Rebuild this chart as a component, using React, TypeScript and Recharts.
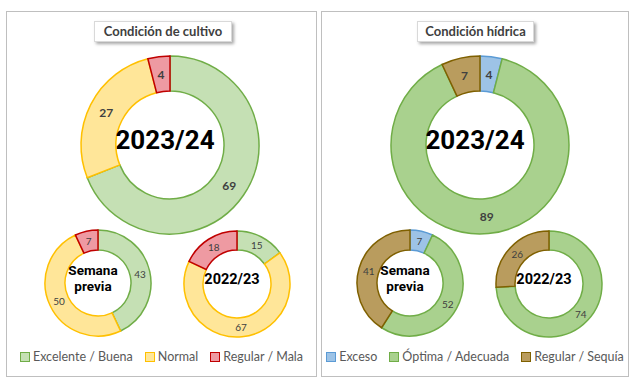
import { Cell, Label, Pie, PieChart } from "recharts";

const cultivoNames = ["Excelente / Buena", "Normal", "Regular / Mala"];
const cultivoActual = [69, 27, 4];
const cultivoPrevia = [43, 50, 7];
const cultivoAnterior = [15, 67, 18];

const hidricaNames = ["Exceso", "Óptima / Adecuada", "Regular / Sequía"];
const hidricaActual = [4, 89, 7];
const hidricaPrevia = [7, 52, 41];
const hidricaAnterior = [0, 74, 26];

const centerActual = ["2023/24"];
const centerPrevia = ["Semana", "previa"];
const centerAnterior = ["2022/23"];

const cultivoFill = ["#c5e0b4", "#ffe699", "#ee9aa2"];
const cultivoStroke = ["#70ad47", "#ffc000", "#c00000"];
const hidricaFill = ["#9dc3e6", "#a9d18e", "#b99c5e"];
const hidricaStroke = ["#5b9bd5", "#70ad47", "#7f6000"];

const FONT = "Lato, 'Open Sans', sans-serif";
const CENTER_FONT = "Roboto, 'DejaVu Sans', sans-serif";
const RAD = Math.PI / 180;

type Ring = {
  values: number[];
  center: string[];
  cx: number;
  cy: number;
  inner: number;
  outer: number;
  labelSize: number;
  labelWeight: number;
  centerSize: number;
};

function sliceLabel(size: number, weight: number) {
  return (p: any) => {
    if (!p.value) return null;
    const r = (p.innerRadius + p.outerRadius) / 2;
    const x = p.cx + r * Math.cos(-p.midAngle * RAD);
    const y = p.cy + r * Math.sin(-p.midAngle * RAD);
    return (
      <text
        x={x}
        y={y}
        textAnchor="middle"
        dominantBaseline="central"
        fill="#404040"
        fontSize={size}
        fontWeight={weight}
        fontFamily={FONT}
      >
        {p.value}
      </text>
    );
  };
}

function centerText(ring: Ring) {
  return () => {
    const lh = ring.centerSize * 1.15;
    const top = ring.cy - ((ring.center.length - 1) * lh) / 2;
    return (
      <text
        textAnchor="middle"
        fill="#000"
        fontSize={ring.centerSize}
        fontWeight="bold"
        fontFamily={CENTER_FONT}
      >
        {ring.center.map((line, i) => (
          <tspan key={i} x={ring.cx} y={top + i * lh} dominantBaseline="central">
            {line}
          </tspan>
        ))}
      </text>
    );
  };
}

function Panel({
  left,
  width,
  title,
  titleLeft,
  titleWidth,
  names,
  fills,
  strokes,
  rings,
  legendGap,
}: {
  left: number;
  width: number;
  title: string;
  titleLeft: number;
  titleWidth: number;
  names: string[];
  fills: string[];
  strokes: string[];
  rings: Ring[];
  legendGap: number;
}) {
  return (
    <div
      style={{
        position: "absolute",
        left,
        top: 11,
        width,
        height: 364,
        border: "1px solid #bfbfbf",
        background: "#fff",
      }}
    >
      <PieChart width={width} height={364}>
        {rings.map((ring, k) => (
          <Pie
            key={k}
            data={ring.values.map((v, i) => ({ name: names[i], value: v }))}
            dataKey="value"
            cx={ring.cx}
            cy={ring.cy}
            innerRadius={ring.inner}
            outerRadius={ring.outer}
            startAngle={90}
            endAngle={-270}
            labelLine={false}
            label={sliceLabel(ring.labelSize, ring.labelWeight)}
            isAnimationActive={false}
          >
            {ring.values.map((_, i) => (
              <Cell key={i} fill={fills[i]} stroke={strokes[i]} strokeWidth={1.5} />
            ))}
            <Label position="center" content={centerText(ring)} />
          </Pie>
        ))}
      </PieChart>
      <div
        style={{
          position: "absolute",
          left: titleLeft,
          top: 9,
          width: titleWidth,
          height: 19,
          lineHeight: "19px",
          textAlign: "center",
          background: "#fff",
          border: "1px solid #d9d9d9",
          boxShadow: "2px 2px 3px rgba(0,0,0,0.35)",
          fontFamily: FONT,
          fontSize: 13,
          fontWeight: "bold",
          color: "#404040",
        }}
      >
        {title}
      </div>
      <div
        style={{
          position: "absolute",
          left: 0,
          width,
          top: 337,
          display: "flex",
          justifyContent: "center",
          gap: legendGap,
          fontFamily: FONT,
          fontSize: 12.5,
          color: "#595959",
          whiteSpace: "nowrap",
        }}
      >
        {names.map((n, i) => (
          <div key={n} style={{ display: "flex", alignItems: "center", gap: 3 }}>
            <span
              style={{
                display: "inline-block",
                width: 8,
                height: 8,
                background: fills[i],
                border: `1px solid ${strokes[i]}`,
              }}
            />
            <span>{n}</span>
          </div>
        ))}
      </div>
    </div>
  );
}

function rings(actual: number[], previa: number[], anterior: number[], big: number, sp: number, ant: number): Ring[] {
  return [
    { values: actual, center: centerActual, cx: big, cy: 128, inner: 54, outer: 89, labelSize: 12, labelWeight: 700, centerSize: 26 },
    { values: previa, center: centerPrevia, cx: sp, cy: 266, inner: 33, outer: 53, labelSize: 10, labelWeight: 400, centerSize: 13.5 },
    { values: anterior, center: centerAnterior, cx: ant, cy: 267, inner: 34, outer: 53, labelSize: 10, labelWeight: 400, centerSize: 14.5 },
  ];
}

export default function App() {
  return (
    <div style={{ position: "absolute", left: 0, top: 0, width: 640, height: 384, background: "#fff" }}>
      <Panel
        left={6}
        width={309}
        title="Condición  de cultivo"
        titleLeft={87}
        titleWidth={136}
        names={cultivoNames}
        fills={cultivoFill}
        strokes={cultivoStroke}
        rings={rings(cultivoActual, cultivoPrevia, cultivoAnterior, 158, 86, 225)}
        legendGap={12}
      />
      <Panel
        left={321}
        width={306}
        title="Condición  hídrica"
        titleLeft={95}
        titleWidth={115}
        names={hidricaNames}
        fills={hidricaFill}
        strokes={hidricaStroke}
        rings={rings(hidricaActual, hidricaPrevia, hidricaAnterior, 153, 83, 222)}
        legendGap={12}
      />
    </div>
  );
}
